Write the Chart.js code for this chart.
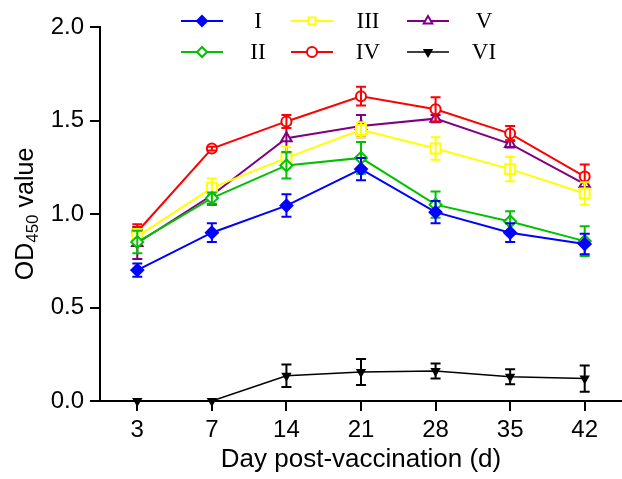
<!DOCTYPE html>
<html>
<head>
<meta charset="utf-8">
<script src="https://cdn.jsdelivr.net/npm/chart.js@4.4.1/dist/chart.umd.min.js"></script>
<style>
  html, body { margin: 0; padding: 0; background: #fff; }
  #wrap { width: 622px; height: 479px; }
</style>
</head>
<body>
<div id="wrap"><canvas id="chart" width="622" height="479"></canvas></div>
<script>
const days = ["3", "7", "14", "21", "28", "35", "42"];
const yTicks = [0, 0.5, 1.0, 1.5, 2.0];

const groupI = [0.70, 0.90, 1.045, 1.24, 1.01, 0.90, 0.84];
const errI = [0.035, 0.05, 0.06, 0.06, 0.06, 0.05, 0.055];
const groupII = [0.85, 1.085, 1.26, 1.30, 1.05, 0.96, 0.855];
const errII = [0.06, 0.03, 0.07, 0.085, 0.07, 0.055, 0.08];
const groupIII = [0.88, 1.14, 1.30, 1.45, 1.35, 1.24, 1.11];
const errIII = [0.04, 0.05, 0.06, 0.04, 0.06, 0.065, 0.06];
const groupIV = [0.905, 1.35, 1.495, 1.63, 1.56, 1.43, 1.20];
const errIV = [0.04, 0.01, 0.035, 0.05, 0.065, 0.04, 0.065];
const groupV = [0.845, 1.10, 1.405, 1.47, 1.51, 1.375, 1.16];
const errV = [0.085, 0.05, 0.075, 0.06, 0.02, 0.02, 0.055];
const groupVI = [0, 0, 0.135, 0.155, 0.16, 0.13, 0.12];
const errVI = [0, 0, 0.06, 0.07, 0.04, 0.04, 0.07];

const sans = "'Liberation Sans', Arial, sans-serif";
const serif = "'Liberation Serif', 'Times New Roman', serif";

function series(label, data, err, color, style, filled, extra) {
  return Object.assign({
    label: label,
    data: data,
    errors: err,
    borderColor: color,
    backgroundColor: filled ? color : "#fff",
    pointBorderColor: color,
    pointBackgroundColor: filled ? color : "#fff",
    pointStyle: style,
    pointRadius: 6,
    pointBorderWidth: 2,
    borderWidth: 2,
    tension: 0,
    clip: false,
  }, extra || {});
}

// error bars, drawn with each dataset
const errorBars = {
  id: "errorBars",
  afterDatasetDraw(chart, args) {
    const ds = chart.data.datasets[args.index];
    const meta = args.meta;
    const y = chart.scales.y;
    const ctx = chart.ctx;
    ctx.save();
    ctx.strokeStyle = ds.borderColor;
    ctx.lineWidth = 2;
    ds.data.forEach((v, i) => {
      const e = ds.errors[i];
      if (!e) return;
      const x = meta.data[i].x;
      const top = y.getPixelForValue(v + e);
      const bot = y.getPixelForValue(v - e);
      ctx.beginPath();
      ctx.moveTo(x, top); ctx.lineTo(x, bot);
      ctx.moveTo(x - 5, top); ctx.lineTo(x + 5, top);
      ctx.moveTo(x - 5, bot); ctx.lineTo(x + 5, bot);
      ctx.stroke();
    });
    ctx.restore();
  }
};

// legend in three columns, and the y title with its subscript
const extras = {
  id: "extras",
  afterDraw(chart) {
    const ctx = chart.ctx;
    const cols = [[181, 258], [291, 368], [407, 484]];
    const rows = [21, 52];
    chart.data.datasets.forEach((ds, i) => {
      const col = cols[Math.floor(i / 2)];
      const yy = rows[i % 2];
      ctx.save();
      ctx.strokeStyle = ds.borderColor;
      ctx.lineWidth = ds.borderWidth;
      ctx.beginPath();
      ctx.moveTo(col[0], yy);
      ctx.lineTo(col[0] + 42, yy);
      ctx.stroke();
      ctx.fillStyle = ds.pointBackgroundColor;
      ctx.strokeStyle = ds.pointBorderColor;
      ctx.lineWidth = 2;
      Chart.helpers.drawPoint(ctx, {
        pointStyle: ds.pointStyle,
        rotation: ds.pointRotation || 0,
        radius: ds.legendRadius || 5,
        borderWidth: 2
      }, col[0] + 21, yy);
      ctx.fillStyle = "#000";
      ctx.font = "23px " + serif;
      ctx.textAlign = "center";
      ctx.textBaseline = "middle";
      ctx.fillText(ds.label, col[1], yy + 1);
      ctx.restore();
    });

    ctx.save();
    ctx.translate(33, (chart.chartArea.top + chart.chartArea.bottom) / 2);
    ctx.rotate(-Math.PI / 2);
    ctx.fillStyle = "#000";
    ctx.textBaseline = "alphabetic";
    const big = "25px " + sans, small = "17px " + sans;
    ctx.font = big; const w1 = ctx.measureText("OD").width;
    const w3 = ctx.measureText(" value").width;
    ctx.font = small; const w2 = ctx.measureText("450").width;
    let x0 = -(w1 + w2 + w3) / 2;
    ctx.font = big; ctx.fillText("OD", x0, 0);
    ctx.font = small; ctx.fillText("450", x0 + w1, 5);
    ctx.font = big; ctx.fillText(" value", x0 + w1 + w2, 0);
    ctx.restore();
  }
};

const ctx = document.getElementById("chart").getContext("2d");
new Chart(ctx, {
  type: "line",
  data: {
    labels: days,
    datasets: [
      series("I", groupI, errI, "#0000ff", "rectRot", true),
      series("II", groupII, errII, "#00c000", "rectRot", false),
      series("III", groupIII, errIII, "#ffff00", "rect", false, { pointRadius: 7 }),
      series("IV", groupIV, errIV, "#ff0000", "circle", false, { pointRadius: 5 }),
      series("V", groupV, errV, "#800080", "triangle", false),
      series("VI", groupVI, errVI, "#000000", "triangle", true, { pointRotation: 180, pointRadius: 4, borderWidth: 1.5, legendRadius: 4 }),
    ],
  },
  options: {
    responsive: false,
    animation: false,
    layout: { autoPadding: false, padding: { top: 27, right: 0, left: 0, bottom: 0 } },
    plugins: {
      legend: { display: false },
      tooltip: { enabled: false },
    },
    scales: {
      x: {
        offset: true,
        grid: { drawOnChartArea: false, color: "#000", lineWidth: 2, tickLength: 10 },
        border: { color: "#000", width: 2 },
        ticks: { color: "#000", font: { family: sans, size: 24 }, padding: 5, maxRotation: 0 },
        title: { display: true, text: "Day post-vaccination (d)", color: "#000", font: { family: sans, size: 26 }, padding: { top: 0 } },
        afterFit(scale) {
          scale.height = 78;
          scale.paddingLeft = 0;
          scale.paddingRight = 0;
        },
      },
      y: {
        min: 0,
        max: 2,
        afterBuildTicks(scale) { scale.ticks = yTicks.map((v) => ({ value: v })); },
        grid: { drawOnChartArea: false, color: "#000", lineWidth: 2, tickLength: 10 },
        border: { color: "#000", width: 2 },
        ticks: { color: "#000", font: { family: sans, size: 24 }, padding: 6, callback: (v) => v.toFixed(1) },
        afterFit(scale) { scale.width = 100; },
      },
    },
  },
  plugins: [errorBars, extras],
});
</script>
</body>
</html>
